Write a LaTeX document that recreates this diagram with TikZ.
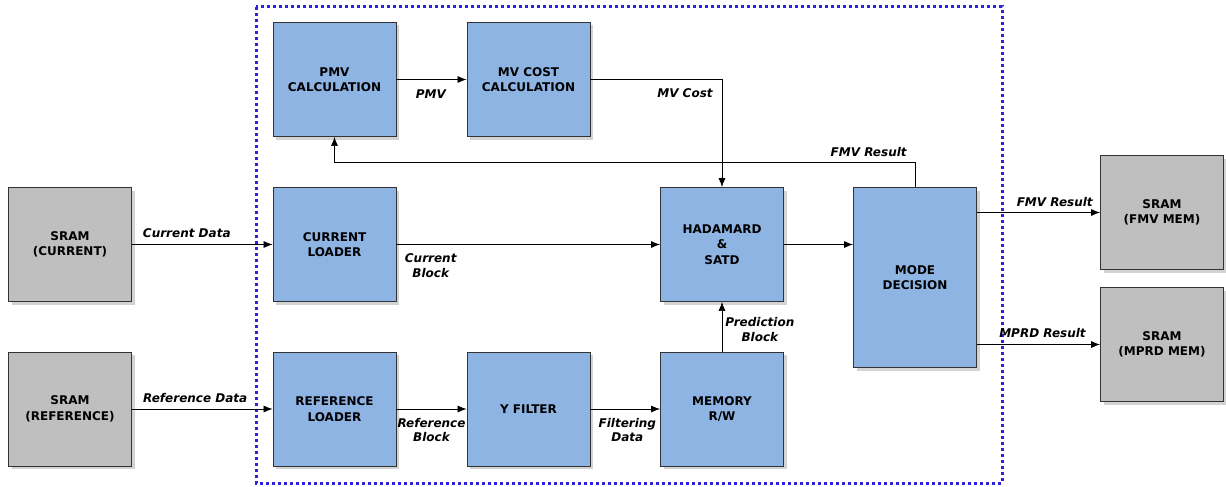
\documentclass[tikz,border=0pt]{standalone}
\usepackage{fontspec}
\setmainfont{DejaVu Sans}
\usetikzlibrary{arrows.meta,shadows}

\definecolor{blockblue}{RGB}{142,180,227}
\definecolor{sramgray}{RGB}{191,191,191}
\definecolor{framecol}{RGB}{45,35,220}

\begin{document}
\begin{tikzpicture}[x=1pt, y=-1pt,
	block/.style={draw=black!80, line width=0.9pt, fill=blockblue, minimum width=123pt, minimum height=114pt,
		align=center, font=\bfseries\fontsize{12}{15.5}\selectfont,
		drop shadow={shadow xshift=3pt, shadow yshift=-3pt, opacity=0.35}},
	sram/.style={block, fill=sramgray},
	sig/.style={-{Latex[length=9pt,width=7pt]}, line width=0.7pt},
	lbl/.style={font=\bfseries\itshape\fontsize{12}{14.5}\selectfont, inner sep=0pt, align=center}]
	\useasboundingbox (0,0) rectangle (1226,487);

	% accelerator boundary
	\draw[framecol, line width=3pt, dash pattern=on 3pt off 3pt] (256,7) rectangle (1002,483);

	% external memories
	\node[sram] (sramcur) at (70,244.5) {SRAM\\(CURRENT)};
	\node[sram] (sramref) at (70,409) {SRAM\\(REFERENCE)};
	\node[sram] (sramfmv) at (1162,212.5) {SRAM\\(FMV MEM)};
	\node[sram] (srammprd) at (1162,344.5) {SRAM\\(MPRD MEM)};

	% processing blocks
	\node[block] (pmv) at (334.5,79.5) {PMV\\CALCULATION};
	\node[block] (mvcost) at (528.5,79.5) {MV COST\\CALCULATION};
	\node[block] (curload) at (334.5,244.5) {CURRENT\\LOADER};
	\node[block] (refload) at (334.5,409) {REFERENCE\\LOADER};
	\node[block] (yfilter) at (528.5,409) {Y FILTER};
	\node[block] (hadamard) at (722,244.5) {HADAMARD\\\&\\SATD};
	\node[block] (memrw) at (722,409) {MEMORY\\R/W};
	\node[block, minimum height=180pt] (mode) at (915,277.5) {MODE\\DECISION};

	% data paths
	\draw[sig] (sramcur) -- node[lbl, above=6pt, pos=0.39] {Current Data} (curload);
	\draw[sig] (sramref) -- node[lbl, above=6pt, pos=0.45] {Reference Data} (refload);
	\draw[sig] (pmv) -- node[lbl, below=10pt, pos=0.49] {PMV} (mvcost);
	\draw[sig] (mvcost.east) -| node[lbl, pos=0.5, anchor=north east, xshift=-9pt, yshift=-9pt] {MV Cost} (hadamard.north);
	\draw[sig] (mode.north) -- ++(0,-25) node[lbl, anchor=south east, xshift=-8pt, yshift=5pt] {FMV Result} -| (pmv.south);
	\draw[sig] (curload) -- node[lbl, below=9pt, pos=0.13] {Current\\Block} (hadamard);
	\draw[sig] (hadamard.east) -- (hadamard.east -| mode.west);
	\draw[sig] (refload) -- node[lbl, below=9pt, pos=0.5] {Reference\\Block} (yfilter);
	\draw[sig] (yfilter) -- node[lbl, below=9pt, pos=0.53] {Filtering\\Data} (memrw);
	\draw[sig] (memrw) -- node[lbl, right=3pt, pos=0.44] {Prediction\\Block} (hadamard);
	\draw[sig] (mode.east |- sramfmv.west) -- node[lbl, pos=1, anchor=south east, xshift=-7pt, yshift=5pt] {FMV Result} (sramfmv.west);
	\draw[sig] (mode.east |- srammprd.west) -- node[lbl, pos=1, anchor=south east, xshift=-14pt, yshift=6pt] {MPRD Result} (srammprd.west);
\end{tikzpicture}
\end{document}
